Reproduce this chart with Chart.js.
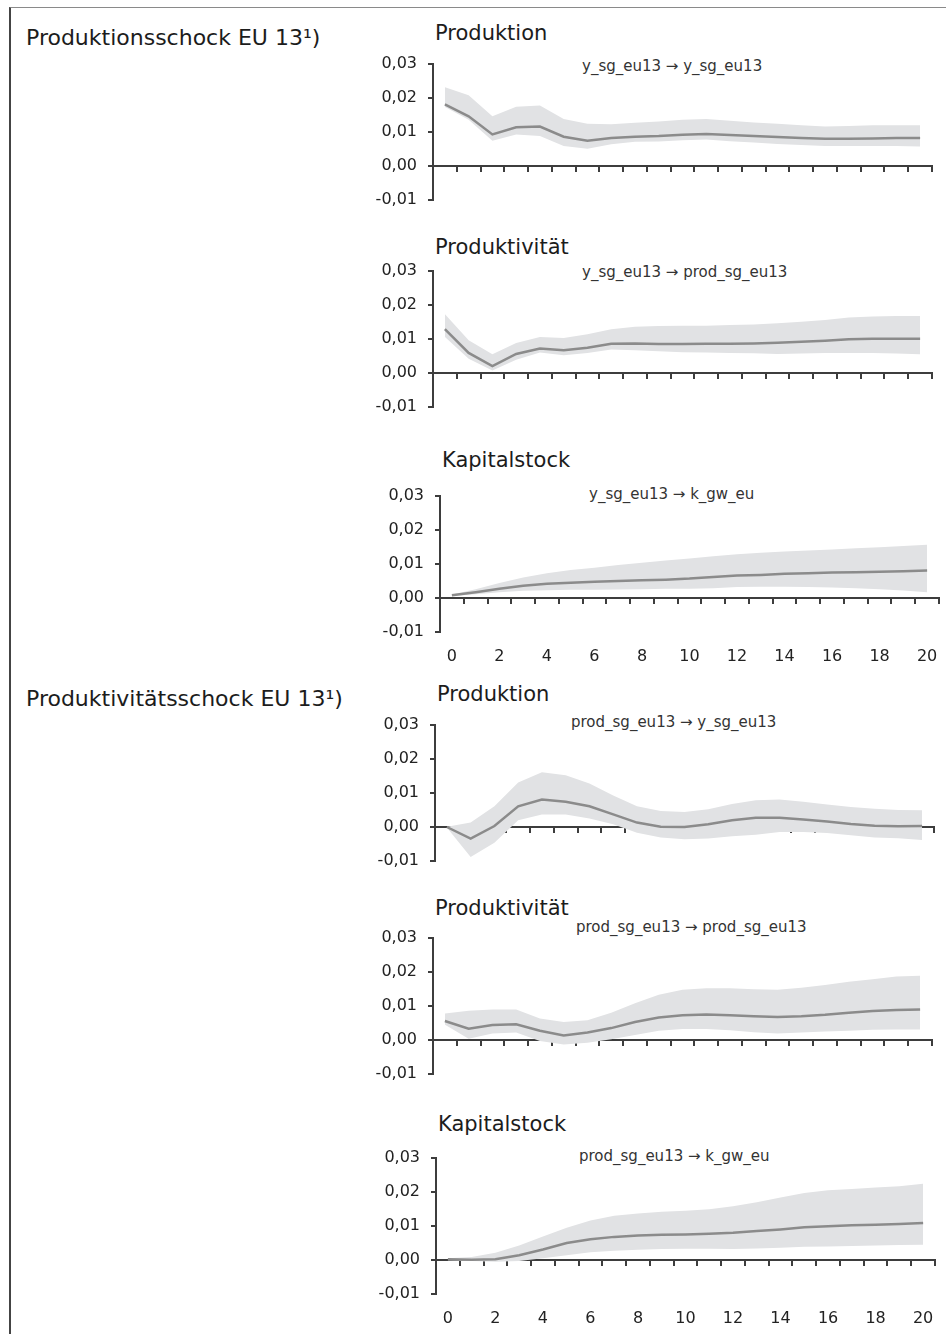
<!DOCTYPE html>
<html>
<head>
<meta charset="utf-8">
<script src="https://cdn.jsdelivr.net/npm/chart.js@4.4.1/dist/chart.umd.min.js"></script>
<style>
  html, body { margin: 0; padding: 0; background: #fff; overflow: hidden; }
  body { width: 946px; height: 1334px; position: relative; font-family: 'DejaVu Sans', sans-serif; color: #1c1c1c; }
  #frame { position: absolute; left: 9px; top: 7px; right: -4px; bottom: -4px; border-left: 2px solid #444; border-top: 1px solid #8a8a8a; }
  .txt { position: absolute; white-space: nowrap; line-height: 1; }
  .big { font-size: 21px; }
  .shock { font-size: 22px; }
  .sub { font-size: 15px; color: #333; }
  canvas { position: absolute; }
</style>
</head>
<body>
<div id="frame"></div>
<script>
// horizons (quarters after the shock)
const horizons = ['0','1','2','3','4','5','6','7','8','9','10','11','12','13','14','15','16','17','18','19','20'];

const shockLabels = ['Produktionsschock EU 13¹)', 'Produktivitätsschock EU 13¹)'];
const panelTitles = ['Produktion', 'Produktivität', 'Kapitalstock', 'Produktion', 'Produktivität', 'Kapitalstock'];
const responseNames = [
  'y_sg_eu13 → y_sg_eu13',
  'y_sg_eu13 → prod_sg_eu13',
  'y_sg_eu13 → k_gw_eu',
  'prod_sg_eu13 → y_sg_eu13',
  'prod_sg_eu13 → prod_sg_eu13',
  'prod_sg_eu13 → k_gw_eu'
];

// Produktionsschock
const yToY   = [0.0181,0.0146,0.0093,0.0114,0.0116,0.0086,0.0074,0.0082,0.0086,0.0088,0.0092,0.0094,0.0091,0.0088,0.0085,0.0082,0.0080,0.0080,0.0081,0.0082,0.0082];
const yToYUp = [0.0232,0.0208,0.0146,0.0174,0.0178,0.0138,0.0124,0.0123,0.0127,0.0131,0.0136,0.0138,0.0133,0.0128,0.0124,0.0120,0.0116,0.0118,0.0120,0.0120,0.0120];
const yToYLo = [0.0174,0.0136,0.0074,0.0093,0.0088,0.0059,0.0051,0.0064,0.0071,0.0072,0.0076,0.0078,0.0073,0.0069,0.0065,0.0062,0.0059,0.0059,0.0059,0.0059,0.0057];

const yToProd   = [0.0129,0.0059,0.0020,0.0056,0.0072,0.0067,0.0074,0.0086,0.0087,0.0085,0.0085,0.0086,0.0086,0.0087,0.0089,0.0092,0.0095,0.0099,0.0101,0.0101,0.0101];
const yToProdUp = [0.0173,0.0096,0.0055,0.0088,0.0106,0.0103,0.0114,0.0129,0.0136,0.0138,0.0139,0.0139,0.0141,0.0143,0.0146,0.0151,0.0156,0.0163,0.0166,0.0168,0.0168];
const yToProdLo = [0.0106,0.0042,0.0007,0.0039,0.0060,0.0052,0.0059,0.0069,0.0067,0.0064,0.0061,0.0060,0.0059,0.0058,0.0056,0.0057,0.0059,0.0059,0.0059,0.0057,0.0055];

const yToK   = [0.0008,0.0017,0.0027,0.0036,0.0042,0.0045,0.0048,0.0050,0.0052,0.0054,0.0057,0.0062,0.0066,0.0068,0.0071,0.0073,0.0075,0.0076,0.0077,0.0079,0.0081];
const yToKUp = [0.0010,0.0026,0.0044,0.0060,0.0073,0.0082,0.0089,0.0097,0.0104,0.0110,0.0116,0.0123,0.0129,0.0133,0.0137,0.0140,0.0143,0.0146,0.0149,0.0153,0.0157];
const yToKLo = [0.0006,0.0011,0.0017,0.0021,0.0023,0.0024,0.0024,0.0025,0.0026,0.0027,0.0027,0.0029,0.0032,0.0033,0.0033,0.0032,0.0031,0.0029,0.0026,0.0022,0.0017];

// Produktivitätsschock
const prodToY   = [0.0000,-0.0034,0.0003,0.0061,0.0081,0.0074,0.0061,0.0037,0.0013,0.0001,0.0000,0.0008,0.0020,0.0027,0.0027,0.0022,0.0016,0.0009,0.0004,0.0002,0.0003];
const prodToYUp = [0.0001,0.0013,0.0061,0.0131,0.0161,0.0152,0.0128,0.0093,0.0061,0.0047,0.0044,0.0052,0.0068,0.0079,0.0081,0.0074,0.0066,0.0059,0.0054,0.0050,0.0049];
const prodToYLo = [-0.0002,-0.0088,-0.0046,0.0020,0.0037,0.0037,0.0025,0.0008,-0.0017,-0.0031,-0.0036,-0.0034,-0.0027,-0.0023,-0.0015,-0.0015,-0.0018,-0.0024,-0.0031,-0.0033,-0.0038];

const prodToProd   = [0.0056,0.0033,0.0044,0.0046,0.0027,0.0013,0.0022,0.0035,0.0053,0.0066,0.0073,0.0075,0.0073,0.0070,0.0068,0.0070,0.0074,0.0080,0.0085,0.0088,0.0090];
const prodToProdUp = [0.0078,0.0086,0.0090,0.0090,0.0063,0.0053,0.0058,0.0080,0.0108,0.0133,0.0148,0.0152,0.0152,0.0149,0.0148,0.0154,0.0162,0.0171,0.0179,0.0187,0.0189];
const prodToProdLo = [0.0045,0.0004,0.0019,0.0022,-0.0003,-0.0013,-0.0008,0.0002,0.0015,0.0027,0.0032,0.0032,0.0029,0.0023,0.0019,0.0022,0.0025,0.0027,0.0030,0.0031,0.0031];

const prodToK   = [0.0002,0.0001,0.0002,0.0014,0.0031,0.0050,0.0061,0.0068,0.0072,0.0074,0.0075,0.0077,0.0080,0.0085,0.0090,0.0096,0.0099,0.0102,0.0104,0.0106,0.0109];
const prodToKUp = [0.0005,0.0009,0.0021,0.0043,0.0069,0.0095,0.0116,0.0130,0.0137,0.0142,0.0145,0.0149,0.0158,0.0170,0.0184,0.0197,0.0205,0.0209,0.0213,0.0217,0.0224];
const prodToKLo = [-0.0001,-0.0003,-0.0005,-0.0003,0.0005,0.0014,0.0023,0.0027,0.0030,0.0032,0.0033,0.0033,0.0032,0.0034,0.0036,0.0039,0.0040,0.0041,0.0043,0.0044,0.0045];

/* =========================
   layout (pixels)
========================= */
const seriesSets = [
  [yToY, yToYUp, yToYLo],
  [yToProd, yToProdUp, yToProdLo],
  [yToK, yToKUp, yToKLo],
  [prodToY, prodToYUp, prodToYLo],
  [prodToProd, prodToProdUp, prodToProdLo],
  [prodToK, prodToKUp, prodToKLo]
];
// axisLeft, plotTop (0,03), title baseline, subtitle x, subtitle centre y, x labels
const boxes = [
  { left: 433, top: 64,   base: 41,   subX: 582, subY: 66,   xLabels: false },
  { left: 433, top: 271,  base: 255,  subX: 582, subY: 272,  xLabels: false },
  { left: 440, top: 496,  base: 468,  subX: 589, subY: 494,  xLabels: true  },
  { left: 435, top: 725,  base: 702,  subX: 571, subY: 722,  xLabels: false },
  { left: 433, top: 938,  base: 916,  subX: 576, subY: 927,  xLabels: false },
  { left: 436, top: 1158, base: 1132, subX: 579, subY: 1156, xLabels: true  }
];
const shockBase = [46, 707];

const canvasLeft = 350, plotW = 499, plotH = 136, padTop = 24, padBottom = 24, padRight = 14, labelBand = 40;
const axisColor = '#3d3d3d', lineColor = '#8b8b8b', bandColor = '#e1e2e4';

Chart.defaults.font.family = "'DejaVu Sans', sans-serif";
Chart.defaults.color = '#222';

function addText(str, cls, x, top) {
  const d = document.createElement('div');
  d.className = 'txt ' + cls;
  d.textContent = str;
  d.style.left = x + 'px';
  d.style.top = top + 'px';
  document.body.appendChild(d);
}

shockLabels.forEach((s, i) => addText(s, 'shock', 26, shockBase[i] - 0.846 * 22));

boxes.forEach((b, i) => {
  addText(panelTitles[i], 'big', b.left + 2, b.base - 0.846 * 21);
  addText(responseNames[i], 'sub', b.subX, b.subY + 5.5 - 0.846 * 15);

  const cv = document.createElement('canvas');
  const w = b.left - canvasLeft + plotW + padRight;
  const h = padTop + plotH + (b.xLabels ? labelBand : padBottom);
  cv.width = w; cv.height = h;
  cv.style.left = canvasLeft + 'px';
  cv.style.top = (b.top - padTop) + 'px';
  document.body.appendChild(cv);

  const [mid, up, lo] = seriesSets[i];
  new Chart(cv.getContext('2d'), {
    type: 'line',
    data: {
      labels: horizons,
      datasets: [
        // first dataset is drawn on top
        { data: mid, fill: false, borderColor: lineColor, borderWidth: 2.5, pointRadius: 0 },
        { data: up, fill: '+1', backgroundColor: bandColor, borderWidth: 0, pointRadius: 0 },
        { data: lo, fill: false, borderWidth: 0, pointRadius: 0 }
      ]
    },
    options: {
      responsive: false,
      animation: false,
      devicePixelRatio: 1,
      layout: { padding: { top: padTop, bottom: b.xLabels ? 0 : padBottom, left: 0, right: padRight } },
      plugins: { legend: { display: false }, tooltip: { enabled: false } },
      scales: {
        x: {
          type: 'category', offset: true, position: { y: 0 },
          grid: { offset: true, drawOnChartArea: false, drawTicks: true, tickLength: 5, color: axisColor, lineWidth: 2 },
          border: { display: true, color: axisColor, width: 2 },
          ticks: { display: false },
          afterFit: s => { s.height = 0; }
        },
        xLab: {
          type: 'category', offset: true, position: 'bottom', display: b.xLabels,
          grid: { display: false, drawTicks: false },
          border: { display: false },
          ticks: {
            autoSkip: false, maxRotation: 0, padding: 15, font: { size: 16 },
            callback: (v, k) => (k % 2 === 0 ? horizons[k] : '')
          },
          afterFit: s => { s.height = b.xLabels ? labelBand : 0; }
        },
        y: {
          position: 'left', min: -0.01, max: 0.03,
          grid: { drawOnChartArea: false, tickLength: 5, color: axisColor, lineWidth: 2 },
          border: { display: true, color: axisColor, width: 2 },
          ticks: { stepSize: 0.01, padding: 11, font: { size: 16 }, callback: v => v.toFixed(2).replace('.', ',') },
          afterFit: s => { s.width = b.left - canvasLeft; }
        }
      }
    }
  });
});
</script>
</body>
</html>
